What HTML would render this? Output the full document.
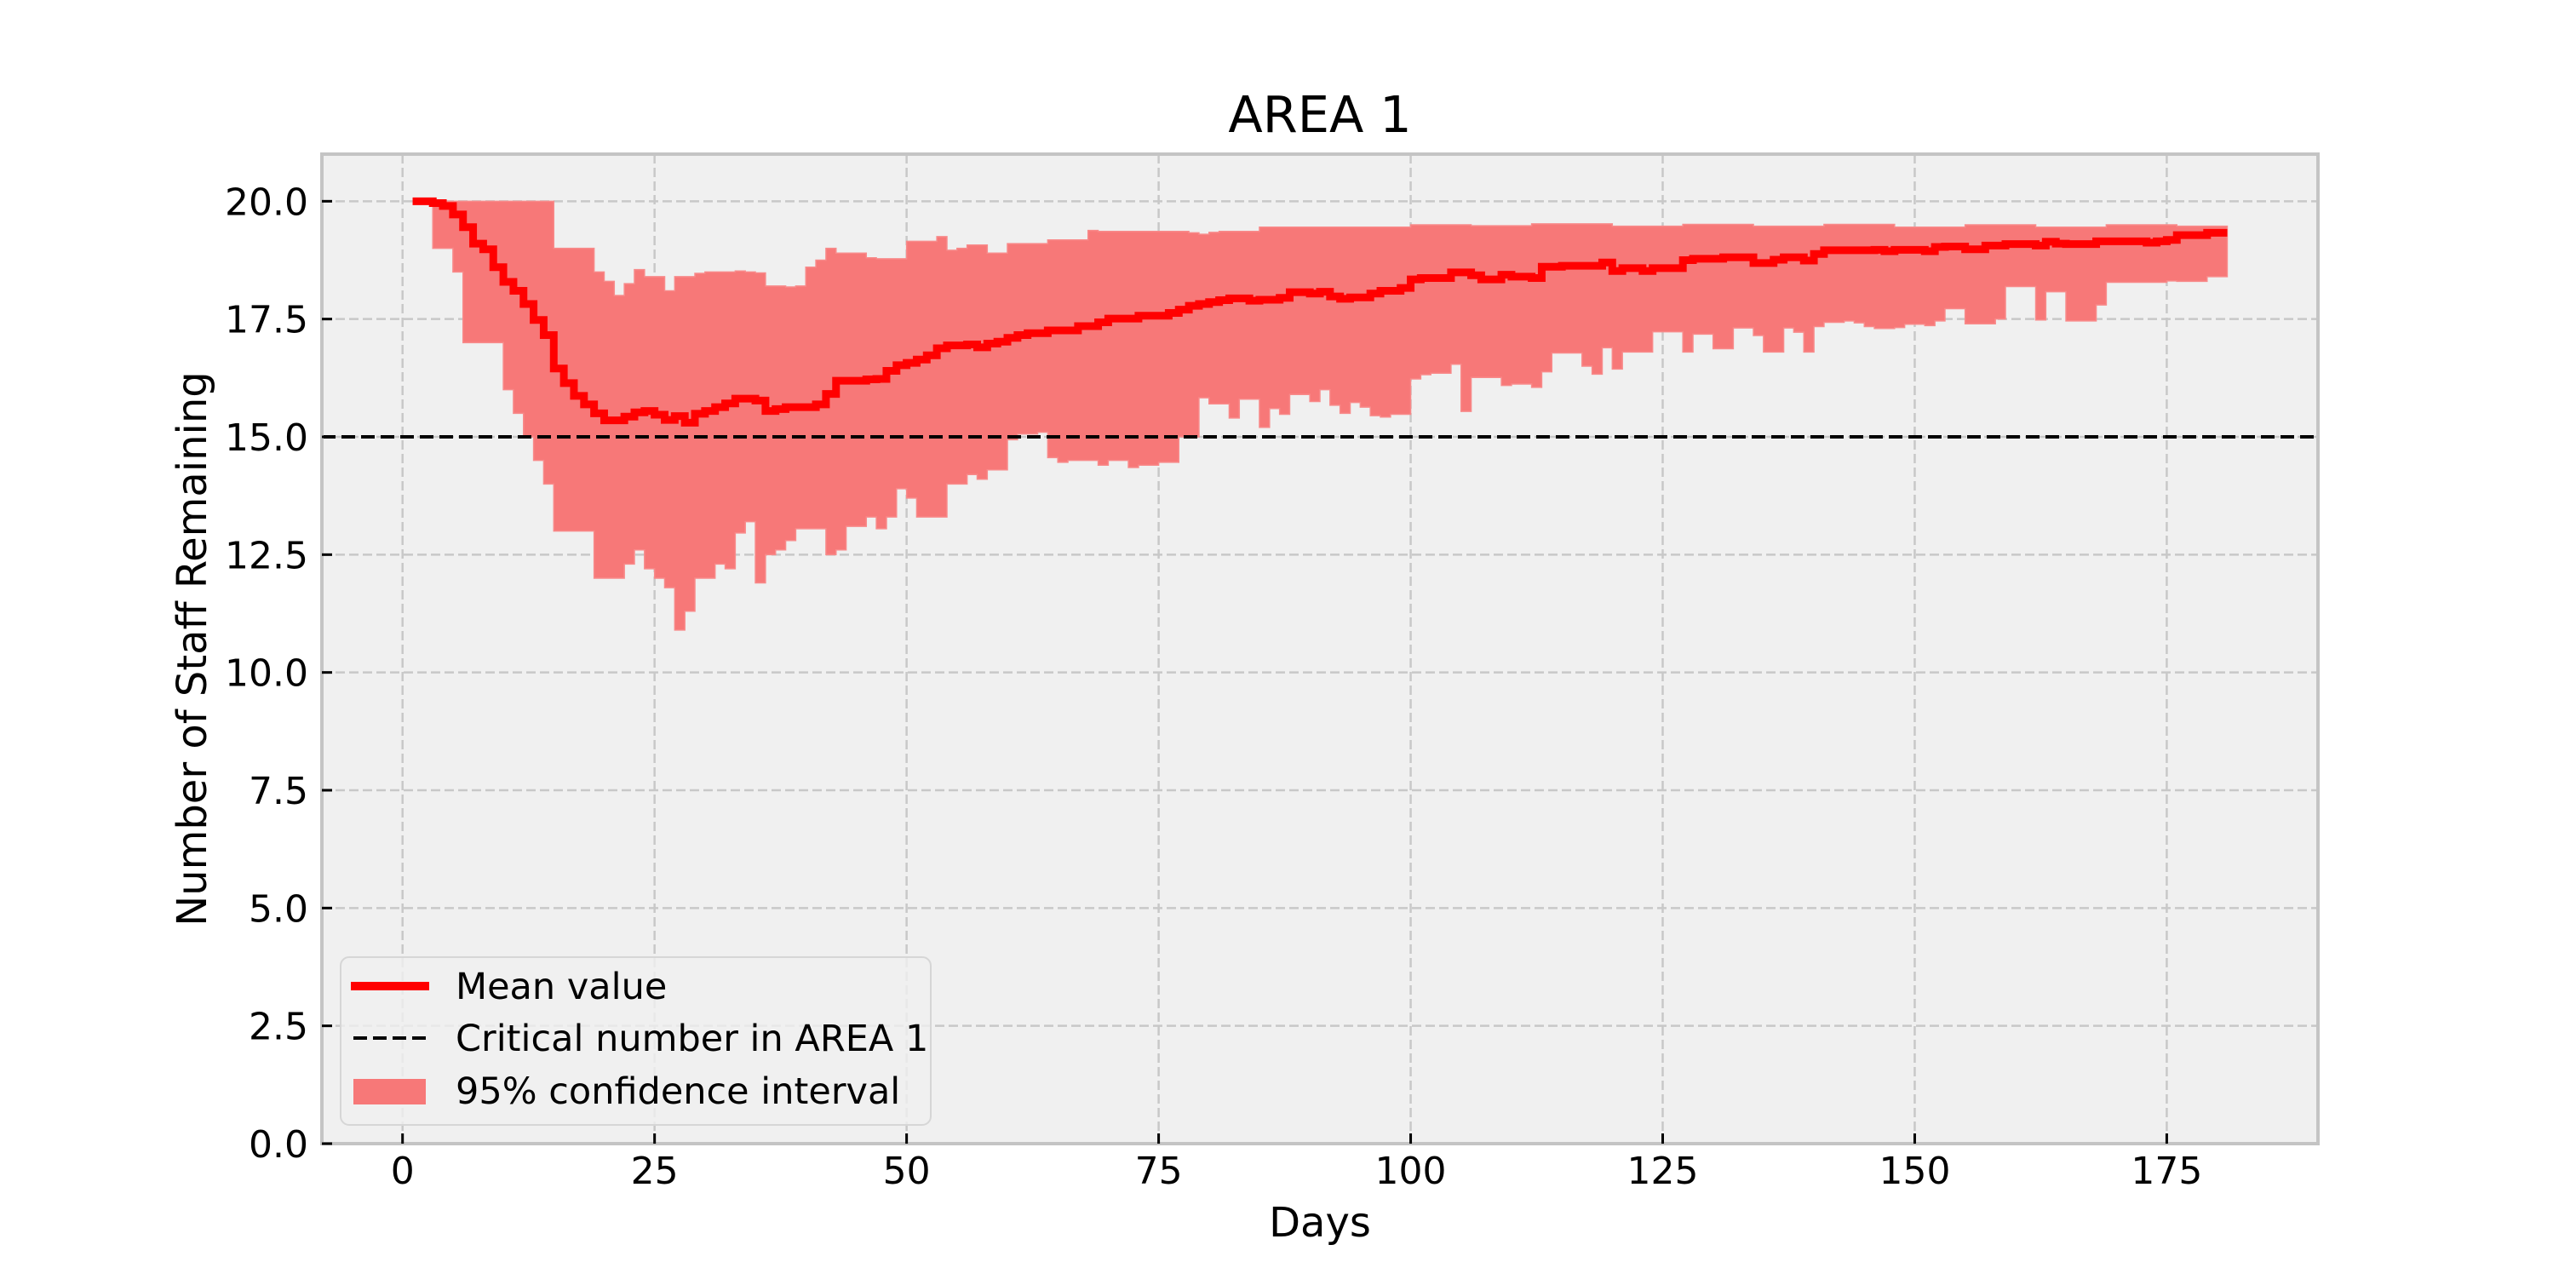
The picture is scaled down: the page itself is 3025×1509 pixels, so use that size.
<!DOCTYPE html>
<html><head><meta charset="utf-8"><style>
html,body{margin:0;padding:0;background:#fff;}
svg{display:block;font-family:"DejaVu Sans","Liberation Sans",sans-serif;}
</style></head><body>
<svg id="chart" width="3025" height="1509" viewBox="0 0 3025 1509" xmlns="http://www.w3.org/2000/svg">
<rect x="0" y="0" width="3025" height="1509" fill="#ffffff"/>
<rect x="378" y="181" width="2344" height="1162" fill="#f0f0f0"/>
<g id="grid"></g>
<g id="marks"></g>
<rect x="378" y="181" width="2344" height="1162" fill="none" stroke="#c4c4c4" stroke-width="4"/>
<g id="ticks"></g>
<text x="1550" y="155" font-size="59" text-anchor="middle" fill="#000">AREA 1</text>
<text x="1550" y="1452" font-size="48" text-anchor="middle" fill="#000">Days</text>
<text x="0" y="0" font-size="48" text-anchor="middle" fill="#000" transform="translate(242,762) rotate(-90)">Number of Staff Remaining</text>
<g>
<rect x="400" y="1124" width="693" height="197" rx="10" fill="#f0f0f0" fill-opacity="0.8" stroke="#d6d6d6" stroke-width="2"/>
<line x1="412" y1="1158" x2="504" y2="1158" stroke="#ff0000" stroke-width="10"/>
<text x="535" y="1173" font-size="43" fill="#000">Mean value</text>
<line x1="415" y1="1219" x2="500" y2="1219" stroke="#000" stroke-width="4" stroke-dasharray="16,7"/>
<text x="535" y="1234" font-size="43" fill="#000">Critical number in AREA 1</text>
<rect x="415" y="1267" width="85" height="30" fill="#f77878"/>
<text x="535" y="1296" font-size="43" fill="#000">95% confidence interval</text>
</g>
</svg>
<script>
const meanVals=[20,20,19.96,19.9,19.72,19.45,19.1,18.98,18.6,18.29,
18.1,17.82,17.48,17.16,16.45,16.14,15.87,15.69,15.5,15.35,
15.35,15.43,15.52,15.55,15.47,15.36,15.44,15.3,15.49,15.55,
15.63,15.71,15.81,15.81,15.77,15.55,15.59,15.63,15.63,15.63,
15.69,15.91,16.19,16.19,16.19,16.22,16.23,16.4,16.52,16.57,
16.64,16.73,16.88,16.94,16.94,16.96,16.9,16.98,17.02,17.1,
17.16,17.2,17.2,17.26,17.26,17.26,17.35,17.35,17.43,17.51,
17.51,17.51,17.57,17.57,17.57,17.63,17.7,17.78,17.82,17.86,
17.9,17.94,17.94,17.89,17.91,17.91,17.95,18.07,18.07,18.04,
18.08,17.98,17.93,17.96,17.96,18.04,18.1,18.1,18.16,18.34,
18.37,18.37,18.37,18.49,18.49,18.43,18.34,18.34,18.44,18.4,
18.4,18.37,18.61,18.61,18.63,18.63,18.63,18.63,18.7,18.52,
18.58,18.58,18.52,18.58,18.58,18.58,18.75,18.78,18.78,18.78,
18.81,18.81,18.81,18.69,18.69,18.76,18.81,18.81,18.74,18.88,
18.96,18.96,18.96,18.96,18.96,18.97,18.94,18.97,18.97,18.97,
18.94,19.03,19.04,19.04,18.98,18.98,19.06,19.06,19.09,19.09,
19.09,19.06,19.14,19.1,19.09,19.09,19.09,19.15,19.15,19.15,
19.15,19.15,19.12,19.15,19.18,19.28,19.28,19.28,19.33,19.33,19.33];
const upperVals=[20,20,20,20,20,20,20,20,20,20,
20,20,20,20,19,19,19,19,18.5,18.3,
18,18.25,18.55,18.4,18.4,18.1,18.4,18.4,18.47,18.5,
18.5,18.5,18.52,18.5,18.48,18.2,18.2,18.18,18.2,18.6,
18.75,19,18.9,18.9,18.9,18.8,18.78,18.78,18.78,19.15,
19.15,19.15,19.25,18.96,19,19.07,19.07,18.9,18.9,19.1,
19.1,19.1,19.1,19.18,19.18,19.18,19.18,19.38,19.36,19.36,
19.36,19.36,19.36,19.36,19.36,19.36,19.36,19.33,19.3,19.34,
19.36,19.36,19.36,19.36,19.45,19.45,19.45,19.45,19.45,19.45,
19.45,19.45,19.45,19.45,19.45,19.45,19.45,19.45,19.45,19.5,
19.5,19.5,19.5,19.5,19.5,19.48,19.48,19.48,19.48,19.48,
19.48,19.52,19.52,19.52,19.52,19.52,19.52,19.52,19.52,19.47,
19.47,19.47,19.47,19.47,19.47,19.47,19.51,19.51,19.51,19.51,
19.51,19.51,19.51,19.47,19.47,19.47,19.47,19.47,19.47,19.47,
19.51,19.51,19.51,19.51,19.51,19.51,19.51,19.45,19.45,19.45,
19.45,19.45,19.45,19.45,19.5,19.5,19.5,19.5,19.5,19.5,
19.5,19.45,19.45,19.45,19.45,19.45,19.45,19.45,19.5,19.5,
19.5,19.5,19.5,19.5,19.5,19.47,19.47,19.47,19.47,19.47,19.47];
const lowerVals=[20,20,19,19,18.5,17,17,17,17,16,
15.5,15,14.5,14,13,13,13,13,12,12,
12,12.3,12.6,12.2,12,11.8,10.9,11.3,12,12,
12.3,12.2,12.96,13.2,11.9,12.5,12.6,12.8,13.05,13.05,
13.05,12.5,12.6,13.1,13.1,13.3,13.05,13.3,13.9,13.7,
13.3,13.3,13.3,14,14,14.2,14.1,14.3,14.3,14.94,
15.06,15.06,15.1,14.56,14.46,14.5,14.5,14.5,14.4,14.5,
14.5,14.35,14.4,14.4,14.46,14.46,15,15,15.83,15.7,
15.7,15.4,15.8,15.8,15.2,15.6,15.48,15.9,15.9,15.75,
16,15.67,15.5,15.73,15.63,15.45,15.42,15.48,15.48,16.23,
16.32,16.35,16.35,16.54,15.54,16.26,16.26,16.26,16.09,16.12,
16.12,16.05,16.38,16.78,16.78,16.78,16.5,16.33,16.89,16.44,
16.8,16.8,16.8,17.23,17.23,17.23,16.8,17.18,17.18,16.87,
16.87,17.31,17.31,17.15,16.8,16.8,17.31,17.22,16.8,17.34,
17.43,17.43,17.46,17.42,17.34,17.3,17.3,17.32,17.39,17.39,
17.36,17.46,17.72,17.72,17.4,17.4,17.4,17.5,18.19,18.19,
18.19,17.48,18.08,18.08,17.46,17.46,17.46,17.8,18.28,18.28,
18.28,18.28,18.28,18.28,18.31,18.3,18.3,18.3,18.4,18.4,18.4];
const firstDay=1;
const criticalValue=15;
const xTicks=[0,25,50,75,100,125,150,175];
const yTicks=[0,2.5,5,7.5,10,12.5,15,17.5,20];
const yTickLabels=["0.0","2.5","5.0","7.5","10.0","12.5","15.0","17.5","20.0"];

const NS="http://www.w3.org/2000/svg";
const L=378,R=2722,T=181,B=1343,XMIN=-8,XMAX=190,YMIN=0,YMAX=21;
function xs(d){return L+(d-XMIN)/(XMAX-XMIN)*(R-L);}
function ys(v){return B-(v-YMIN)/(YMAX-YMIN)*(B-T);}
function mk(tag,attrs,parent){const e=document.createElementNS(NS,tag);for(const k in attrs)e.setAttribute(k,attrs[k]);parent.appendChild(e);return e;}
const grid=document.getElementById('grid'),marks=document.getElementById('marks'),ticks=document.getElementById('ticks');

xTicks.forEach(t=>{
  const g=mk('line',{x1:xs(t),x2:xs(t),y1:T,y2:B,stroke:'#c8c8c8','stroke-width':2.5,'stroke-dasharray':'11,5'},grid);
  
  
  const tk=mk('line',{x1:xs(t),x2:xs(t),y1:B,y2:B-12,stroke:'#000','stroke-width':3},ticks);
  
  
  const lb=mk('text',{x:xs(t),y:1390,'font-size':44,'text-anchor':'middle',fill:'#000'},ticks);
  lb.textContent=String(t);
  
  
});
yTicks.forEach((t,i)=>{
  const g=mk('line',{x1:L,x2:R,y1:ys(t),y2:ys(t),stroke:'#c8c8c8','stroke-width':2.5,'stroke-dasharray':'11,5'},grid);
  
  
  const tk=mk('line',{x1:L,x2:L+12,y1:ys(t),y2:ys(t),stroke:'#000','stroke-width':3},ticks);
  
  
  const lb=mk('text',{x:362,y:ys(t)+16,'font-size':44,'text-anchor':'end',fill:'#000'},ticks);
  lb.textContent=yTickLabels[i];
  
  
});

// confidence band (step post)
let n=upperVals.length,d='';
for(let i=0;i<n;i++){
  const x0=xs(firstDay+i),x1=xs(firstDay+Math.min(i+1,n-1));
  d+=(i===0?'M':'L')+x0+','+ys(upperVals[i])+'L'+x1+','+ys(upperVals[i]);
}
for(let i=n-1;i>=0;i--){
  const x0=xs(firstDay+i),x1=xs(firstDay+Math.min(i+1,n-1));
  d+='L'+x1+','+ys(lowerVals[i])+'L'+x0+','+ys(lowerVals[i]);
}
d+='Z';
const band=mk('path',{d:d,fill:'#f77878',stroke:'#f88a8a','stroke-width':1.5},marks);



const crit=mk('line',{x1:L,x2:R,y1:ys(criticalValue),y2:ys(criticalValue),stroke:'#000','stroke-width':4,'stroke-dasharray':'16,7'},marks);



let m='';
for(let i=0;i<meanVals.length;i++){
  const x0=xs(firstDay+i),x1=xs(firstDay+Math.min(i+1,meanVals.length-1));
  m+=(i===0?'M':'L')+x0+','+ys(meanVals[i])+'L'+x1+','+ys(meanVals[i]);
}
const meanLine=mk('path',{d:m,fill:'none',stroke:'#ff0000','stroke-width':9,'stroke-linejoin':'miter'},marks);


</script>
</body></html>
